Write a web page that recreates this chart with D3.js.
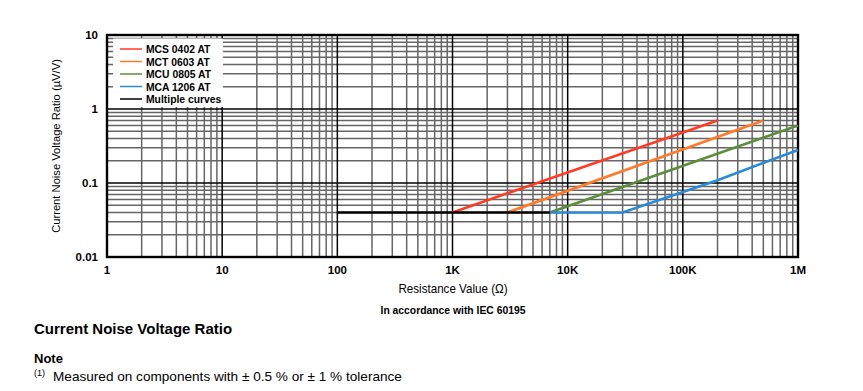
<!DOCTYPE html>
<html><head><meta charset="utf-8">
<script src="https://cdn.jsdelivr.net/npm/d3@7"></script>
<style>body{margin:0;background:#fff;} svg{display:block;font-family:"Liberation Sans",Arial,sans-serif;}</style>
</head><body>
<svg id="c" width="863" height="391"></svg>
<script>
const xTicks = [1, 10, 100, 1000, 10000, 100000, 1000000];
const xTickLabels = ["1", "10", "100", "1K", "10K", "100K", "1M"];
const yTicks = [0.01, 0.1, 1, 10];
const yTickLabels = ["0.01", "0.1", "1", "10"];
const seriesNames = ["MCS 0402 AT", "MCT 0603 AT", "MCU 0805 AT", "MCA 1206 AT", "Multiple curves"];
const seriesColors = ["#ff3b24", "#ff7b2c", "#5b8e3b", "#2b8ad4", "#000000"];
const mcsPoints = [[1000, 0.04], [200000, 0.7]];
const mctPoints = [[3000, 0.04], [500000, 0.7]];
const mcuPoints = [[7000, 0.04], [1000000, 0.6]];
const mcaPoints = [[7000, 0.04], [30000, 0.04], [200000, 0.109], [1000000, 0.28]];
const multiplePoints = [[100, 0.04], [7000, 0.04]];
const seriesPoints = [mcsPoints, mctPoints, mcuPoints, mcaPoints, multiplePoints];

const svg = d3.select("#c");
const L = 107, R = 798, T = 35, B = 257;
const x = d3.scaleLog().domain([1, 1e6]).range([L, R]);
const y = d3.scaleLog().domain([0.01, 10]).range([B, T]);

const xMinor = [], yMinor = [];
for (let d = 1; d < 1e6; d *= 10) for (let k = 2; k <= 9; k++) xMinor.push(d * k);
for (let d = 0.01; d < 9.99; d *= 10) for (let k = 2; k <= 9; k++) yMinor.push(d * k);

const g = svg.append("g");
g.selectAll(".xm").data(xMinor).enter().append("line")
  .attr("x1", d => x(d)).attr("x2", d => x(d)).attr("y1", T).attr("y2", B)
  .attr("stroke", "#666").attr("stroke-width", 1.5);
g.selectAll(".ym").data(yMinor).enter().append("line")
  .attr("y1", d => y(d)).attr("y2", d => y(d)).attr("x1", L).attr("x2", R)
  .attr("stroke", "#666").attr("stroke-width", 1.5);
g.selectAll(".xM").data(xTicks).enter().append("line")
  .attr("x1", d => x(d)).attr("x2", d => x(d)).attr("y1", T).attr("y2", B)
  .attr("stroke", "#000").attr("stroke-width", 1.5);
g.selectAll(".yM").data(yTicks).enter().append("line")
  .attr("y1", d => y(d)).attr("y2", d => y(d)).attr("x1", L).attr("x2", R)
  .attr("stroke", "#000").attr("stroke-width", 1.5);

svg.append("rect").attr("x", L).attr("y", T).attr("width", R - L).attr("height", B - T)
  .attr("fill", "none").attr("stroke", "#000").attr("stroke-width", 2.4);

const line = d3.line().x(d => x(d[0])).y(d => y(d[1]));
seriesPoints.forEach((pts, i) => {
  svg.append("path").attr("d", line(pts)).attr("fill", "none")
    .attr("stroke", seriesColors[i]).attr("stroke-width", 2.6).attr("stroke-linecap", "butt");
});

const lg = svg.append("g");
lg.append("rect").attr("x", 113).attr("y", 38.5).attr("width", 110).attr("height", 68.5).attr("fill", "#fff");
seriesNames.forEach((n, i) => {
  const yy = 49 + i * 12.5;
  lg.append("line").attr("x1", 120).attr("x2", 142).attr("y1", yy).attr("y2", yy)
    .attr("stroke", seriesColors[i]).attr("stroke-width", 1.5);
  lg.append("text").attr("transform", `translate(146,${yy + 4}) scale(0.9,1)`)
    .attr("font-size", 11.5).attr("font-weight", "bold").text(n);
});

svg.selectAll(".xl").data(xTicks).enter().append("text")
  .attr("x", d => x(d)).attr("y", 274).attr("text-anchor", "middle")
  .attr("font-size", 11.5).attr("font-weight", "bold").text((d, i) => xTickLabels[i]);
svg.selectAll(".yl").data(yTicks).enter().append("text")
  .attr("x", 98).attr("y", d => y(d) + 4).attr("text-anchor", "end")
  .attr("font-size", 11.5).attr("font-weight", "bold").text((d, i) => yTickLabels[i]);

svg.append("text").attr("transform", "translate(60,146) rotate(-90)").attr("text-anchor", "middle")
  .attr("font-size", 11.2).text("Current Noise Voltage Ratio (µV/V)");
svg.append("text").attr("transform", "translate(453,293) scale(0.93,1)").attr("text-anchor", "middle")
  .attr("font-size", 12.5).text("Resistance Value (Ω)");
svg.append("text").attr("transform", "translate(453,314) scale(0.9,1)").attr("text-anchor", "middle")
  .attr("font-size", 11.5).attr("font-weight", "bold").text("In accordance with IEC 60195");

svg.append("text").attr("x", 34).attr("y", 334).attr("font-size", 15).attr("font-weight", "bold")
  .text("Current Noise Voltage Ratio");
svg.append("text").attr("x", 34).attr("y", 363).attr("font-size", 13).attr("font-weight", "bold").text("Note");
svg.append("text").attr("x", 34).attr("y", 376).attr("font-size", 9).text("(1)");
svg.append("text").attr("x", 53).attr("y", 381).attr("font-size", 13.6).text("Measured on components with ± 0.5 % or ± 1 % tolerance");
</script>
</body></html>
